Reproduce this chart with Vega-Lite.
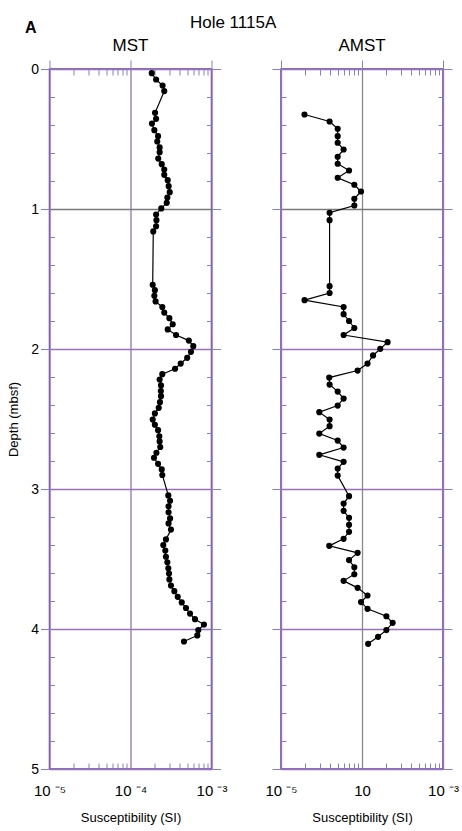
{
  "$schema": "https://vega.github.io/schema/vega-lite/v6.json",
  "background": "white",
  "padding": {"left": 6.5, "top": 13, "right": 5, "bottom": 2},
  "config": {
    "font": "Liberation Sans",
    "view": {"stroke": "#6040a8", "strokeWidth": 1.5},
    "axis": {"domain": false, "grid": false, "labelFont": "Liberation Sans", "titleFont": "Liberation Sans", "labelColor": "black", "titleColor": "black", "tickColor": "#8080d0", "tickWidth": 1, "gridColor": "#9a70b8", "gridWidth": 1.3, "gridOpacity": 1, "titleFontWeight": "normal"},
    "title": {"font": "Liberation Sans", "color": "black"}
  },
  "datasets": {
    "mst": [
      {"depth": 0.03, "sus": 1.83e-4}, {"depth": 0.075, "sus": 2.07e-4}, {"depth": 0.118, "sus": 2.49e-4}, {"depth": 0.158, "sus": 2.61e-4},
      {"depth": 0.313, "sus": 2.01e-4}, {"depth": 0.356, "sus": 2.07e-4}, {"depth": 0.39, "sus": 1.84e-4}, {"depth": 0.437, "sus": 1.97e-4},
      {"depth": 0.48, "sus": 2.19e-4}, {"depth": 0.518, "sus": 2.14e-4}, {"depth": 0.56, "sus": 2.29e-4}, {"depth": 0.594, "sus": 2.29e-4},
      {"depth": 0.64, "sus": 2.2e-4}, {"depth": 0.68, "sus": 2.43e-4}, {"depth": 0.718, "sus": 2.61e-4}, {"depth": 0.756, "sus": 2.61e-4},
      {"depth": 0.794, "sus": 2.88e-4}, {"depth": 0.837, "sus": 2.96e-4}, {"depth": 0.88, "sus": 3.05e-4}, {"depth": 0.918, "sus": 2.85e-4},
      {"depth": 0.956, "sus": 2.8e-4}, {"depth": 0.996, "sus": 2.4e-4}, {"depth": 1.039, "sus": 2.07e-4}, {"depth": 1.08, "sus": 2.09e-4},
      {"depth": 1.123, "sus": 2.07e-4}, {"depth": 1.16, "sus": 1.91e-4}, {"depth": 1.541, "sus": 1.88e-4}, {"depth": 1.58, "sus": 2.0e-4},
      {"depth": 1.62, "sus": 1.97e-4}, {"depth": 1.66, "sus": 2.04e-4}, {"depth": 1.7, "sus": 2.47e-4}, {"depth": 1.74, "sus": 2.61e-4},
      {"depth": 1.78, "sus": 3.02e-4}, {"depth": 1.823, "sus": 3.32e-4}, {"depth": 1.86, "sus": 2.88e-4}, {"depth": 1.9, "sus": 3.65e-4},
      {"depth": 1.94, "sus": 5.25e-4}, {"depth": 1.98, "sus": 5.96e-4}, {"depth": 2.02, "sus": 5.58e-4}, {"depth": 2.063, "sus": 5.01e-4},
      {"depth": 2.104, "sus": 4.17e-4}, {"depth": 2.141, "sus": 3.55e-4}, {"depth": 2.18, "sus": 2.47e-4}, {"depth": 2.218, "sus": 2.29e-4},
      {"depth": 2.26, "sus": 2.38e-4}, {"depth": 2.3, "sus": 2.37e-4}, {"depth": 2.337, "sus": 2.38e-4}, {"depth": 2.38, "sus": 2.31e-4},
      {"depth": 2.42, "sus": 2.23e-4}, {"depth": 2.46, "sus": 2.0e-4}, {"depth": 2.504, "sus": 1.88e-4}, {"depth": 2.541, "sus": 2.0e-4},
      {"depth": 2.58, "sus": 2.19e-4}, {"depth": 2.623, "sus": 2.27e-4}, {"depth": 2.66, "sus": 2.29e-4}, {"depth": 2.7, "sus": 2.33e-4},
      {"depth": 2.741, "sus": 2.09e-4}, {"depth": 2.777, "sus": 1.95e-4}, {"depth": 2.82, "sus": 2.19e-4}, {"depth": 2.86, "sus": 2.43e-4},
      {"depth": 2.9, "sus": 2.47e-4}, {"depth": 3.046, "sus": 2.93e-4}, {"depth": 3.084, "sus": 3.08e-4}, {"depth": 3.123, "sus": 2.95e-4},
      {"depth": 3.166, "sus": 2.95e-4}, {"depth": 3.21, "sus": 3.08e-4}, {"depth": 3.246, "sus": 2.95e-4}, {"depth": 3.29, "sus": 3.16e-4},
      {"depth": 3.36, "sus": 2.74e-4}, {"depth": 3.4, "sus": 2.54e-4}, {"depth": 3.44, "sus": 2.69e-4}, {"depth": 3.484, "sus": 2.74e-4},
      {"depth": 3.523, "sus": 2.85e-4}, {"depth": 3.566, "sus": 2.93e-4}, {"depth": 3.604, "sus": 2.99e-4}, {"depth": 3.646, "sus": 3.02e-4},
      {"depth": 3.69, "sus": 3.16e-4}, {"depth": 3.73, "sus": 3.48e-4}, {"depth": 3.77, "sus": 3.83e-4}, {"depth": 3.81, "sus": 4.29e-4},
      {"depth": 3.85, "sus": 4.84e-4}, {"depth": 3.89, "sus": 5.43e-4}, {"depth": 3.93, "sus": 6.25e-4}, {"depth": 3.968, "sus": 8.07e-4},
      {"depth": 4.008, "sus": 6.87e-4}, {"depth": 4.046, "sus": 6.68e-4}, {"depth": 4.089, "sus": 4.57e-4}
    ],
    "amst": [
      {"depth": 0.325, "sus": 1.95e-5}, {"depth": 0.375, "sus": 3.98e-5}, {"depth": 0.427, "sus": 5.01e-5}, {"depth": 0.48, "sus": 5.01e-5},
      {"depth": 0.527, "sus": 5.01e-5}, {"depth": 0.575, "sus": 5.93e-5}, {"depth": 0.627, "sus": 5.01e-5}, {"depth": 0.677, "sus": 5.01e-5},
      {"depth": 0.725, "sus": 6.92e-5}, {"depth": 0.777, "sus": 5.01e-5}, {"depth": 0.827, "sus": 8.04e-5}, {"depth": 0.875, "sus": 9.73e-5},
      {"depth": 0.927, "sus": 8.04e-5}, {"depth": 0.975, "sus": 8.04e-5}, {"depth": 1.027, "sus": 3.98e-5}, {"depth": 1.08, "sus": 3.98e-5},
      {"depth": 1.551, "sus": 3.98e-5}, {"depth": 1.6, "sus": 3.98e-5}, {"depth": 1.651, "sus": 1.95e-5}, {"depth": 1.7, "sus": 5.93e-5},
      {"depth": 1.751, "sus": 5.93e-5}, {"depth": 1.8, "sus": 6.92e-5}, {"depth": 1.85, "sus": 8.04e-5}, {"depth": 1.9, "sus": 5.93e-5},
      {"depth": 1.951, "sus": 2.07e-4}, {"depth": 1.999, "sus": 1.68e-4}, {"depth": 2.046, "sus": 1.37e-4}, {"depth": 2.104, "sus": 1.17e-4},
      {"depth": 2.154, "sus": 8.83e-5}, {"depth": 2.204, "sus": 3.94e-5}, {"depth": 2.254, "sus": 3.98e-5}, {"depth": 2.304, "sus": 5.01e-5},
      {"depth": 2.354, "sus": 5.93e-5}, {"depth": 2.404, "sus": 5.01e-5}, {"depth": 2.451, "sus": 2.97e-5}, {"depth": 2.504, "sus": 3.98e-5},
      {"depth": 2.551, "sus": 3.98e-5}, {"depth": 2.604, "sus": 2.97e-5}, {"depth": 2.654, "sus": 5.01e-5}, {"depth": 2.704, "sus": 5.93e-5},
      {"depth": 2.756, "sus": 2.97e-5}, {"depth": 2.806, "sus": 5.93e-5}, {"depth": 2.854, "sus": 5.01e-5}, {"depth": 2.904, "sus": 5.01e-5},
      {"depth": 3.051, "sus": 6.92e-5}, {"depth": 3.104, "sus": 5.93e-5}, {"depth": 3.156, "sus": 5.93e-5}, {"depth": 3.206, "sus": 6.92e-5},
      {"depth": 3.256, "sus": 6.92e-5}, {"depth": 3.306, "sus": 6.92e-5}, {"depth": 3.356, "sus": 5.93e-5}, {"depth": 3.406, "sus": 3.94e-5},
      {"depth": 3.456, "sus": 8.83e-5}, {"depth": 3.508, "sus": 6.92e-5}, {"depth": 3.559, "sus": 8.04e-5}, {"depth": 3.609, "sus": 8.04e-5},
      {"depth": 3.656, "sus": 5.93e-5}, {"depth": 3.706, "sus": 8.83e-5}, {"depth": 3.761, "sus": 1.17e-4}, {"depth": 3.808, "sus": 9.73e-5},
      {"depth": 3.856, "sus": 1.17e-4}, {"depth": 3.909, "sus": 2.0e-4}, {"depth": 3.956, "sus": 2.39e-4}, {"depth": 4.008, "sus": 2.0e-4},
      {"depth": 4.056, "sus": 1.58e-4}, {"depth": 4.106, "sus": 1.19e-4}
    ]
  },
  "title": {"text": "A", "anchor": "start", "fontWeight": "bold", "fontSize": 16, "offset": -22, "dx": 18},
  "vconcat": [
    {
      "title": {"text": "Hole 1115A", "anchor": "middle", "fontSize": 17, "fontWeight": "normal", "offset": 4},
      "spacing": 69.5,
      "bounds": "flush",
      "hconcat": [
        {
          "width": 162, "height": 700,
          "title": {"text": "MST", "fontSize": 17, "fontWeight": "normal", "offset": 5},
          "data": {"name": "mst"},
          "resolve": {"axis": {"x": "independent", "y": "independent"}},
          "layer": [
            {
              "mark": {"type": "line", "color": "black", "strokeWidth": 1.2},
              "encoding": {
                "x": {"field": "sus", "type": "quantitative", "scale": {"type": "log", "domain": [1e-5, 1e-3], "nice": false},
                  "axis": {"orient": "bottom", "values": [1e-5, 1e-4, 1e-3], "ticks": false, "grid": true, "labelFontSize": 15, "labelPadding": 14, "labelFlush": false,
                    "labelExpr": "datum.value < 5e-5 ? '10 ⁻⁵' : datum.value < 5e-4 ? '10 ⁻⁴' : '10 ⁻³'",
                    "title": "Susceptibility (SI)", "titleFontSize": 13, "titlePadding": 13}},
                "y": {"field": "depth", "type": "quantitative", "scale": {"domain": [0, 5], "nice": false, "reverse": true},
                  "axis": {"orient": "left", "values": [0, 1, 2, 3, 4, 5], "tickSize": 9, "grid": true, "gridColor": {"condition": {"test": "datum.value == 1", "value": "#7a7a7a"}, "value": "#9a70b8"}, "labelFontSize": 14, "labelPadding": 2,
                    "title": "Depth (mbsf)", "titleFontSize": 13, "titlePadding": 10}},
                "order": {"field": "depth"}
              }
            },
            {
              "mark": {"type": "point", "filled": true, "color": "black", "size": 38, "opacity": 1},
              "encoding": {
                "x": {"field": "sus", "type": "quantitative", "scale": {"type": "log", "domain": [1e-5, 1e-3], "nice": false},
                  "axis": {"orient": "bottom", "values": [2e-5, 3e-5, 4e-5, 5e-5, 6e-5, 7e-5, 8e-5, 9e-5, 2e-4, 3e-4, 4e-4, 5e-4, 6e-4, 7e-4, 8e-4, 9e-4], "tickSize": -6, "labels": false, "title": null}},
                "y": {"field": "depth", "type": "quantitative", "scale": {"domain": [0, 5], "nice": false, "reverse": true},
                  "axis": {"orient": "left", "values": [0.2, 0.4, 0.6, 0.8, 1.2, 1.4, 1.6, 1.8, 2.2, 2.4, 2.6, 2.8, 3.2, 3.4, 3.6, 3.8, 4.2, 4.4, 4.6, 4.8], "tickSize": -5, "labels": false, "title": null}}
              }
            },
            {
              "mark": {"type": "point", "opacity": 0},
              "encoding": {
                "x": {"field": "sus", "type": "quantitative", "scale": {"type": "log", "domain": [1e-5, 1e-3], "nice": false},
                  "axis": {"orient": "top", "values": [1e-5, 1e-4, 1e-3], "tickSize": 9, "labels": false, "title": null}},
                "y": {"field": "depth", "type": "quantitative", "scale": {"domain": [0, 5], "nice": false, "reverse": true},
                  "axis": {"orient": "right", "values": [0, 1, 2, 3, 4, 5], "tickSize": 9, "labels": false, "title": null}}
              }
            },
            {
              "mark": {"type": "point", "opacity": 0},
              "encoding": {
                "x": {"field": "sus", "type": "quantitative", "scale": {"type": "log", "domain": [1e-5, 1e-3], "nice": false},
                  "axis": {"orient": "top", "values": [2e-5, 3e-5, 4e-5, 5e-5, 6e-5, 7e-5, 8e-5, 9e-5, 2e-4, 3e-4, 4e-4, 5e-4, 6e-4, 7e-4, 8e-4, 9e-4], "tickSize": -6, "labels": false, "title": null}},
                "y": {"field": "depth", "type": "quantitative", "scale": {"domain": [0, 5], "nice": false, "reverse": true},
                  "axis": {"orient": "right", "values": [0.2, 0.4, 0.6, 0.8, 1.2, 1.4, 1.6, 1.8, 2.2, 2.4, 2.6, 2.8, 3.2, 3.4, 3.6, 3.8, 4.2, 4.4, 4.6, 4.8], "tickSize": -5, "labels": false, "title": null}}
              }
            }
          ]
        },
        {
          "width": 162, "height": 700,
          "title": {"text": "AMST", "fontSize": 17, "fontWeight": "normal", "offset": 5},
          "data": {"name": "amst"},
          "resolve": {"axis": {"x": "independent", "y": "independent"}},
          "layer": [
            {
              "mark": {"type": "line", "color": "black", "strokeWidth": 1.2},
              "encoding": {
                "x": {"field": "sus", "type": "quantitative", "scale": {"type": "log", "domain": [1e-5, 1e-3], "nice": false},
                  "axis": {"orient": "bottom", "values": [1e-5, 1e-4, 1e-3], "ticks": false, "grid": true, "gridColor": {"condition": {"test": "datum.value > 5e-5 && datum.value < 5e-4", "value": "#8a8a8a"}, "value": "#9a70b8"}, "labelFontSize": 15, "labelPadding": 14, "labelFlush": false,
                    "labelExpr": "datum.value < 5e-5 ? '10 ⁻⁵' : datum.value < 5e-4 ? '10' : '10 ⁻³'",
                    "title": "Susceptibility (SI)", "titleFontSize": 13, "titlePadding": 13}},
                "y": {"field": "depth", "type": "quantitative", "scale": {"domain": [0, 5], "nice": false, "reverse": true},
                  "axis": {"orient": "left", "values": [0, 1, 2, 3, 4, 5], "tickSize": 9, "grid": true, "gridColor": {"condition": {"test": "datum.value == 1", "value": "#7a7a7a"}, "value": "#9a70b8"}, "labels": false, "title": null}},
                "order": {"field": "depth"}
              }
            },
            {
              "mark": {"type": "point", "filled": true, "color": "black", "size": 38, "opacity": 1},
              "encoding": {
                "x": {"field": "sus", "type": "quantitative", "scale": {"type": "log", "domain": [1e-5, 1e-3], "nice": false},
                  "axis": {"orient": "bottom", "values": [2e-5, 3e-5, 4e-5, 5e-5, 6e-5, 7e-5, 8e-5, 9e-5, 2e-4, 3e-4, 4e-4, 5e-4, 6e-4, 7e-4, 8e-4, 9e-4], "tickSize": -6, "labels": false, "title": null}},
                "y": {"field": "depth", "type": "quantitative", "scale": {"domain": [0, 5], "nice": false, "reverse": true},
                  "axis": {"orient": "left", "values": [0.2, 0.4, 0.6, 0.8, 1.2, 1.4, 1.6, 1.8, 2.2, 2.4, 2.6, 2.8, 3.2, 3.4, 3.6, 3.8, 4.2, 4.4, 4.6, 4.8], "tickSize": -5, "labels": false, "title": null}}
              }
            },
            {
              "mark": {"type": "point", "opacity": 0},
              "encoding": {
                "x": {"field": "sus", "type": "quantitative", "scale": {"type": "log", "domain": [1e-5, 1e-3], "nice": false},
                  "axis": {"orient": "top", "values": [1e-5, 1e-4, 1e-3], "tickSize": 9, "labels": false, "title": null}},
                "y": {"field": "depth", "type": "quantitative", "scale": {"domain": [0, 5], "nice": false, "reverse": true},
                  "axis": {"orient": "right", "values": [0, 1, 2, 3, 4, 5], "tickSize": 9, "labels": false, "title": null}}
              }
            },
            {
              "mark": {"type": "point", "opacity": 0},
              "encoding": {
                "x": {"field": "sus", "type": "quantitative", "scale": {"type": "log", "domain": [1e-5, 1e-3], "nice": false},
                  "axis": {"orient": "top", "values": [2e-5, 3e-5, 4e-5, 5e-5, 6e-5, 7e-5, 8e-5, 9e-5, 2e-4, 3e-4, 4e-4, 5e-4, 6e-4, 7e-4, 8e-4, 9e-4], "tickSize": -6, "labels": false, "title": null}},
                "y": {"field": "depth", "type": "quantitative", "scale": {"domain": [0, 5], "nice": false, "reverse": true},
                  "axis": {"orient": "right", "values": [0.2, 0.4, 0.6, 0.8, 1.2, 1.4, 1.6, 1.8, 2.2, 2.4, 2.6, 2.8, 3.2, 3.4, 3.6, 3.8, 4.2, 4.4, 4.6, 4.8], "tickSize": -5, "labels": false, "title": null}}
              }
            }
          ]
        }
      ]
    }
  ]
}
